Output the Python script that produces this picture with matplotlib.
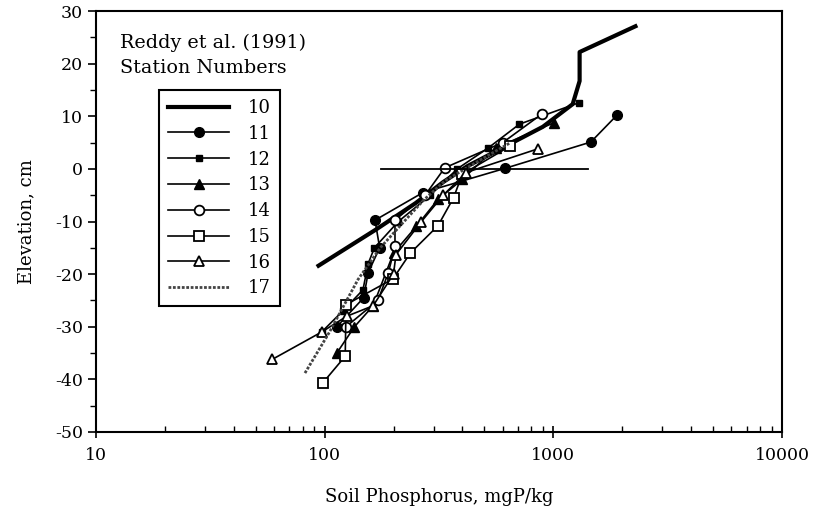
import numpy as np
import matplotlib
matplotlib.use("Agg")
import matplotlib.pyplot as plt
from matplotlib.ticker import MultipleLocator, LogLocator, NullFormatter, FixedLocator

# =============================
# Data
# =============================

s10_x = [94, 168, 250, 330, 420, 600, 900, 1215, 1303, 1303, 2286]
s10_y = [-18.4, -11.5, -6.5, -2.5, 0.5, 4, 8, 12.3, 16.7, 22.2, 27.1]

s11_x = [1897, 1459, 615, 269, 166, 174, 155, 148, 113]
s11_y = [10.2, 5.1, 0.1, -4.5, -9.75, -15, -19.7, -24.5, -30]

s12_x = [1300, 711, 520, 380, 290, 210, 165, 155, 147, 120, 97]
s12_y = [12.6, 8.5, 4, 0, -5, -10, -15, -18, -23, -27, -31]

s13_x = [1010, 560, 400, 313, 252, 200, 163, 135, 113]
s13_y = [8.8, 4, -2, -5.8, -10.9, -16, -26, -30, -35]

s14_x = [889, 601, 335, 275, 203, 203, 190, 171, 124]
s14_y = [10.4, 5, 0.2, -5, -9.75, -14.7, -19.7, -25, -30]

s15_x = [646, 400, 366, 313, 237, 199, 124, 123, 98]
s15_y = [4.3, -1, -5.5, -10.8, -16, -20.9, -25.8, -35.6, -40.7]

s16_x = [855, 415, 330, 265, 205, 200, 163, 125, 97, 59]
s16_y = [3.8, -0.7, -5, -10, -16.3, -20, -26, -28, -31, -36.2]

s17_x = [82, 105, 140, 175, 213, 270, 335, 450, 650]
s17_y = [-38.8, -31, -21, -15, -10.9, -6, -2.3, 1, 5]

surface_x = [177, 1413]
surface_y = [0, 0]

stations = ["10", "11", "12", "13", "14", "15", "16", "17"]

# =============================
# Plot
# =============================

plt.rcParams["font.family"] = "DejaVu Serif"
plt.rcParams["font.size"] = 12
plt.rcParams["axes.unicode_minus"] = False

fig = plt.figure(figsize=(8.14, 5.12), dpi=100)
ax = fig.add_axes([96/814, 1-432/512, (782-96)/814, (432-11)/512])

k = "black"
ax.plot(s10_x, s10_y, color=k, lw=3, label=stations[0])
ax.plot(s11_x, s11_y, color=k, lw=1.2, marker="o", ms=7, label=stations[1])
ax.plot(s12_x, s12_y, color=k, lw=1.2, marker="s", ms=5, label=stations[2])
ax.plot(s13_x, s13_y, color=k, lw=1.2, marker="^", ms=7, label=stations[3])
ax.plot(s14_x, s14_y, color=k, lw=1.2, marker="o", ms=7, mfc="white", mew=1.3, label=stations[4])
ax.plot(s15_x, s15_y, color=k, lw=1.2, marker="s", ms=7, mfc="white", mew=1.3, label=stations[5])
ax.plot(s16_x, s16_y, color=k, lw=1.2, marker="^", ms=7, mfc="white", mew=1.3, label=stations[6])
ax.plot(s17_x, s17_y, color="#444444", lw=2, ls=(0, (1, 0.6)), label=stations[7])
ax.plot(surface_x, surface_y, color=k, lw=1.3)

ax.set_xscale("log")
ax.set_xlim(10, 10000)
ax.set_ylim(-50, 30)

ax.yaxis.set_major_locator(MultipleLocator(10))
ax.yaxis.set_minor_locator(MultipleLocator(5))
ax.xaxis.set_major_locator(FixedLocator([10, 100, 1000, 10000]))
ax.xaxis.set_minor_locator(LogLocator(base=10, subs=np.arange(2, 10)))
ax.xaxis.set_minor_formatter(NullFormatter())
ax.set_xticklabels(["10", "100", "1000", "10000"])

ax.tick_params(axis="y", which="major", direction="out", length=6, width=1.2, labelsize=12.5)
ax.tick_params(axis="y", which="minor", direction="out", length=4, width=1.0)
ax.tick_params(axis="x", which="major", direction="inout", length=8, width=1.2, labelsize=12.5, pad=7)
ax.tick_params(axis="x", which="minor", direction="in", length=4, width=1.0)

for sp in ax.spines.values():
    sp.set_linewidth(1.5)

ax.set_xlabel("Soil Phosphorus, mgP/kg", fontsize=13, labelpad=17)
ax.set_ylabel("Elevation, cm", fontsize=13, labelpad=14)

fig.text(120/814, 1-43/512, "Reddy et al. (1991)", fontsize=13.8, va="center", ha="left")
fig.text(120/814, 1-68/512, "Station Numbers", fontsize=13.8, va="center", ha="left")

leg = ax.legend(loc="upper left", bbox_to_anchor=(159/814, 1-90/512),
                bbox_transform=fig.transFigure, frameon=True, fancybox=False,
                edgecolor="black", framealpha=1, fontsize=13, handlelength=3.4,
                handletextpad=1.0, labelspacing=0.43, borderpad=0.5, borderaxespad=0)
leg.get_frame().set_linewidth(1.5)

fig.savefig("out.png", dpi=100)
